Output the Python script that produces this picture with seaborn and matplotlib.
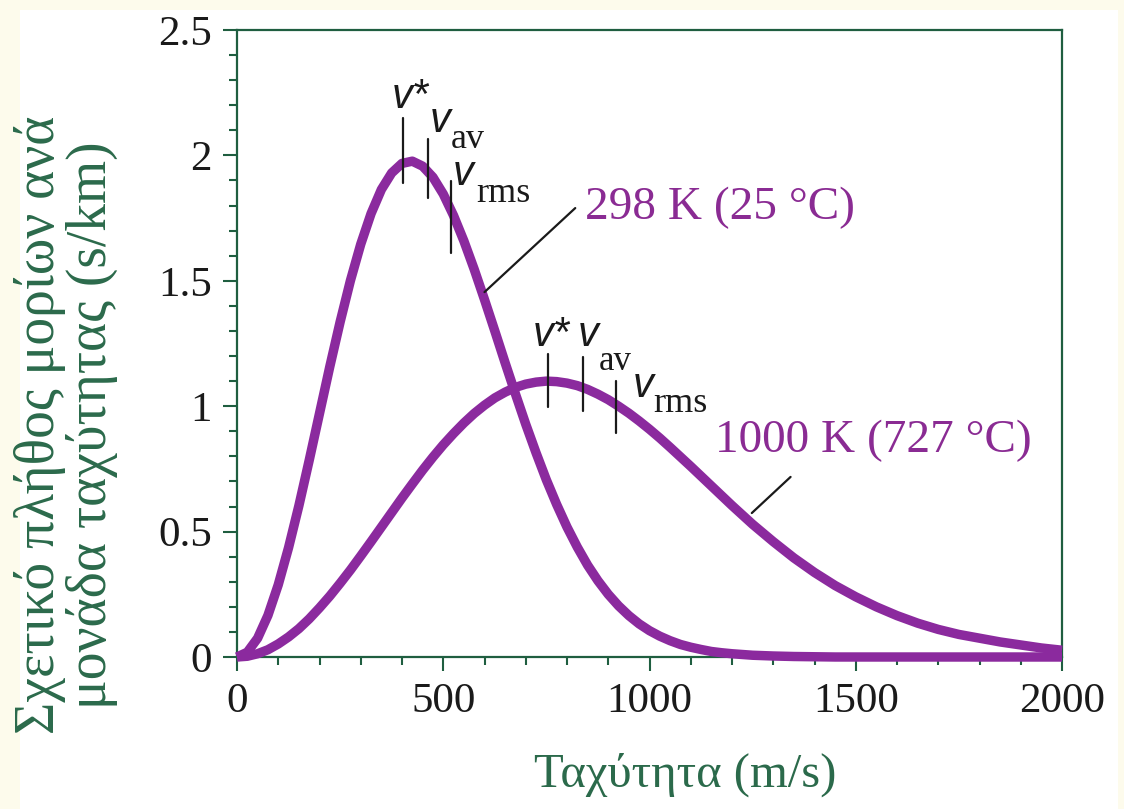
import matplotlib
matplotlib.use("Agg")
import matplotlib.pyplot as plt
from matplotlib.patches import Rectangle
from matplotlib.ticker import MultipleLocator
import seaborn as sns
import pandas as pd

# speed grid (m/s) and values (s/km)
speed = [0, 25, 50, 75, 100, 125, 150, 175, 200, 225, 250, 275, 300, 325, 350, 375,
         400, 425, 450, 475, 500, 525, 550, 575, 600, 625, 650, 675, 700, 725, 750,
         775, 800, 825, 850, 875, 900, 925, 950, 975, 1000, 1025, 1050, 1075, 1100,
         1125, 1150, 1175, 1200, 1250, 1300, 1350, 1400, 1450, 1500, 1550, 1600,
         1650, 1700, 1750, 1800, 1850, 1900, 1950, 2000]
curve_298 = [0.0, 0.019, 0.075, 0.166, 0.288, 0.436, 0.603, 0.784, 0.971, 1.158,
             1.336, 1.501, 1.646, 1.768, 1.864, 1.930, 1.968, 1.977, 1.957, 1.913,
             1.846, 1.760, 1.659, 1.546, 1.425, 1.300, 1.173, 1.049, 0.928, 0.814,
             0.706, 0.608, 0.518, 0.438, 0.366, 0.304, 0.250, 0.204, 0.165, 0.132,
             0.105, 0.083, 0.065, 0.050, 0.039, 0.030, 0.022, 0.017, 0.013, 0.007,
             0.004, 0.002, 0.001, 0.0, 0.0, 0.0, 0.0, 0.0, 0.0, 0.0, 0.0, 0.0, 0.0,
             0.0, 0.0]
curve_1000 = [0.0, 0.003, 0.013, 0.029, 0.052, 0.080, 0.113, 0.152, 0.196, 0.243,
              0.294, 0.347, 0.403, 0.460, 0.518, 0.576, 0.634, 0.690, 0.745, 0.797,
              0.846, 0.891, 0.933, 0.971, 1.004, 1.033, 1.056, 1.075, 1.088, 1.096,
              1.100, 1.098, 1.092, 1.082, 1.067, 1.048, 1.026, 1.000, 0.972, 0.941,
              0.908, 0.873, 0.836, 0.798, 0.760, 0.721, 0.682, 0.643, 0.604, 0.529,
              0.460, 0.395, 0.337, 0.285, 0.240, 0.200, 0.165, 0.135, 0.110, 0.090,
              0.075, 0.060, 0.048, 0.036, 0.027]

# characteristic speeds marked with short bars: (speed, bar bottom, bar top)
marks_298 = [(402, 1.89, 2.15), (463, 1.83, 2.065), (519, 1.61, 1.898)]
marks_1000 = [(754, 0.997, 1.21), (839, 0.981, 1.196), (919, 0.893, 1.10)]

xticks = [0, 500, 1000, 1500, 2000]
xtick_labels = ["0", "500", "1000", "1500", "2000"]
yticks = [0, 0.5, 1, 1.5, 2, 2.5]
ytick_labels = ["0", "0.5", "1", "1.5", "2", "2.5"]

label_298 = "298 K (25 °C)"
label_1000 = "1000 K (727 °C)"
xlabel = "Ταχύτητα (m/s)"
ylabel = "Σχετικό πλήθος μορίων ανά\nμονάδα ταχύτητας (s/km)"

purple = "#8b2a9e"
text_purple = "#8a2b93"
green = "#1f5e40"
label_green = "#2b6a4b"

sns.set_theme(style="ticks")
plt.rcParams["font.family"] = ["Liberation Serif", "DejaVu Serif"]

df = pd.DataFrame({
    "speed": speed * 2,
    "value": curve_298 + curve_1000,
    "T": [label_298] * len(speed) + [label_1000] * len(speed),
})

fig = plt.figure(figsize=(11.24, 8.09), dpi=100)
fig.patch.set_facecolor("#fdfbec")
fig.patches.append(Rectangle((20 / 1124, 0), 1098 / 1124, 1 - 10 / 809,
                             transform=fig.transFigure, facecolor="white",
                             edgecolor="none", zorder=-5))

ax = fig.add_axes([237 / 1124, 1 - 657 / 809, 825 / 1124, 627 / 809])
ax.set_zorder(2)
ax.set_facecolor("white")

sns.lineplot(data=df, x="speed", y="value", hue="T",
             palette=[purple, purple], linewidth=6.8, legend=False, ax=ax,
             clip_on=False, zorder=3)
for line in ax.get_lines():
    line.set_solid_capstyle("butt")
    line.set_solid_joinstyle("round")

for v, lo, hi in marks_298 + marks_1000:
    ax.plot([v, v], [lo, hi], color="#1a1a1a", lw=1.6, zorder=4)

# leader lines to the temperature labels
ax.plot([600, 820], [1.455, 1.79], color="#1a1a1a", lw=1.6, zorder=4)
ax.plot([1248, 1342], [0.574, 0.718], color="#1a1a1a", lw=1.6, zorder=4)

ax.text(844, 1.79, label_298, color=text_purple, fontsize=34, va="center", ha="left")
ax.text(1159, 0.861, label_1000, color=text_purple, fontsize=34, va="center", ha="left")

vfont = dict(family=["Liberation Sans", "DejaVu Sans"], style="italic",
             fontsize=30, color="#1a1a1a", va="baseline", ha="left")
sfont = dict(fontsize=26, color="#1a1a1a", va="baseline", ha="left")

# 298 K speed symbols
ax.text(376, 2.19, "v*", **vfont)
ax.text(468, 2.093, "v", **vfont)
ax.text(519, 2.03, "av", **sfont)
ax.text(524, 1.882, "v", **vfont)
ax.text(580, 1.814, "rms", **sfont)
# 1000 K speed symbols
ax.text(716, 1.24, "v*", **vfont)
ax.text(826, 1.24, "v", **vfont)
ax.text(876, 1.144, "av", fontsize=25, color="#1a1a1a", va="baseline", ha="left")
ax.text(960, 1.037, "v", **vfont)
ax.text(1008, 0.977, "rms", **sfont)

ax.set_xlim(0, 2000)
ax.set_ylim(0, 2.5)
ax.set_xticks(xticks)
ax.set_xticklabels(xtick_labels)
ax.set_yticks(yticks)
ax.set_yticklabels(ytick_labels)
ax.xaxis.set_minor_locator(MultipleLocator(100))
ax.yaxis.set_minor_locator(MultipleLocator(0.1))
ax.tick_params(which="major", length=10, width=1.5, color=green,
               labelsize=31, labelcolor="#1a1a1a", pad=8, direction="out")
ax.tick_params(which="minor", length=5.5, width=1.5, color=green, direction="out")
ax.set_xlabel("")
ax.set_ylabel("")
for s in ax.spines.values():
    s.set_visible(True)
    s.set_color(green)
    s.set_linewidth(1.6)

fig.text(685 / 1124, 1 - 775 / 809, xlabel, color=label_green, fontsize=35,
         ha="center", va="center")
fig.text(66 / 1124, 1 - 425 / 809, ylabel, color=label_green, fontsize=40,
         ha="center", va="center", rotation=90, multialignment="center",
         linespacing=0.98)

fig.savefig("out.png", dpi=100, facecolor=fig.get_facecolor())
